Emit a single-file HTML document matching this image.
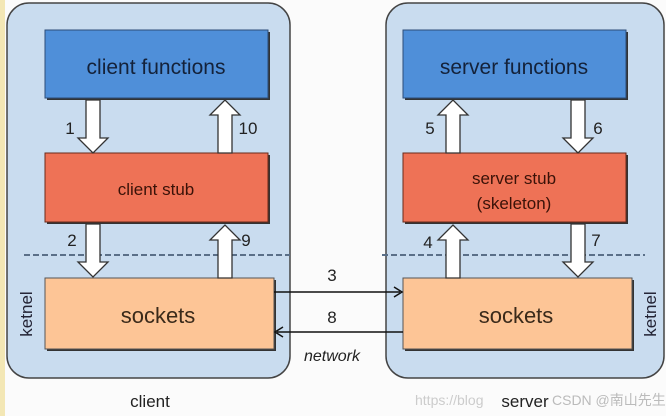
<!DOCTYPE html>
<html><head><meta charset="utf-8"><style>
html,body{margin:0;padding:0;background:#fff}
svg{display:block}
text{font-family:"Liberation Sans",sans-serif}
</style></head><body>
<svg width="666" height="416" viewBox="0 0 666 416" xmlns="http://www.w3.org/2000/svg">
<rect width="666" height="416" fill="#fbfbfb"/>
<rect x="0" y="0" width="5" height="416" fill="#f3e7b5"/>
<rect x="7" y="3" width="283" height="375" rx="22" fill="#c9dcef" stroke="#444" stroke-width="1.5"/>
<rect x="386" y="3" width="278" height="375" rx="22" fill="#c9dcef" stroke="#444" stroke-width="1.5"/>
<line x1="24" y1="255" x2="290" y2="255" stroke="#5a6f88" stroke-width="2" stroke-dasharray="6,3"/>
<line x1="382" y1="255" x2="645" y2="255" stroke="#5a6f88" stroke-width="2" stroke-dasharray="6,3"/>
<rect x="47" y="32" width="223" height="68" fill="#333"/>
<rect x="45" y="30" width="223" height="68" fill="#4f8fd9" stroke="#2d4d78" stroke-width="1"/>
<rect x="47" y="155" width="223" height="69" fill="#333"/>
<rect x="45" y="153" width="223" height="69" fill="#ee7256" stroke="#6a2a1a" stroke-width="1"/>
<rect x="47" y="280" width="229" height="71" fill="#333"/>
<rect x="45" y="278" width="229" height="71" fill="#fdc596" stroke="#555" stroke-width="1"/>
<rect x="405" y="32" width="223" height="68" fill="#333"/>
<rect x="403" y="30" width="223" height="68" fill="#4f8fd9" stroke="#2d4d78" stroke-width="1"/>
<rect x="405" y="155" width="223" height="69" fill="#333"/>
<rect x="403" y="153" width="223" height="69" fill="#ee7256" stroke="#6a2a1a" stroke-width="1"/>
<rect x="405" y="280" width="229" height="71" fill="#333"/>
<rect x="403" y="278" width="229" height="71" fill="#fdc596" stroke="#555" stroke-width="1"/>
<g fill="#fff" stroke="#333" stroke-width="1.3">
<path d="M86,100 L100,100 L100,138 L108,138 L93,153 L78,138 L86,138 Z"/>
<path d="M86,224 L100,224 L100,262 L108,262 L93,277 L78,262 L86,262 Z"/>
<path d="M218,153 L232,153 L232,115 L240,115 L225,100 L210,115 L218,115 Z"/>
<path d="M218,278 L232,278 L232,240 L240,240 L225,225 L210,240 L218,240 Z"/>
<path d="M446,153 L460,153 L460,115 L468,115 L453,100 L438,115 L446,115 Z"/>
<path d="M446,278 L460,278 L460,240 L468,240 L453,225 L438,240 L446,240 Z"/>
<path d="M571,100 L585,100 L585,138 L593,138 L578,153 L563,138 L571,138 Z"/>
<path d="M571,224 L585,224 L585,262 L593,262 L578,277 L563,262 L571,262 Z"/>
</g>
<line x1="274" y1="292" x2="400" y2="292" stroke="#111" stroke-width="1.5"/>
<path d="M394,287 L402,292 L394,297" fill="none" stroke="#111" stroke-width="1.5"/>
<line x1="277" y1="332" x2="403" y2="332" stroke="#111" stroke-width="1.5"/>
<path d="M283,327 L275,332 L283,337" fill="none" stroke="#111" stroke-width="1.5"/>
<g font-size="17" fill="#222" text-anchor="middle">
<text x="332" y="281">3</text>
<text x="332" y="323">8</text>
<text x="70" y="134">1</text>
<text x="248" y="134">10</text>
<text x="72" y="246">2</text>
<text x="246" y="246">9</text>
<text x="430" y="134">5</text>
<text x="598" y="134">6</text>
<text x="428" y="248">4</text>
<text x="596" y="246">7</text>
</g>
<text x="332" y="361" font-size="16" font-style="italic" fill="#222" text-anchor="middle">network</text>
<g text-anchor="middle">
<text x="156" y="74" font-size="21" fill="#14223a">client functions</text>
<text x="514" y="74" font-size="21" fill="#14223a">server functions</text>
<text x="156" y="195" font-size="17" fill="#3a1208">client stub</text>
<text x="514" y="184" font-size="17" fill="#3a1208">server stub</text>
<text x="514" y="209" font-size="17" fill="#3a1208">(skeleton)</text>
<text x="158" y="323" font-size="22" fill="#3a2a1a">sockets</text>
<text x="516" y="323" font-size="22" fill="#3a2a1a">sockets</text>
<text x="150" y="407" font-size="17" fill="#222">client</text>
<text x="525" y="407" font-size="17" fill="#222">server</text>
</g>
<text transform="translate(32,314) rotate(-90)" font-size="17" fill="#223" text-anchor="middle">ketnel</text>
<text transform="translate(656,314) rotate(-90)" font-size="17" fill="#223" text-anchor="middle">ketnel</text>
<text x="415" y="405" font-size="14" fill="#ccc">https://blog</text>
<text x="552" y="405" font-size="14" fill="#bbb">CSDN @南山先生</text>
</svg>
</body></html>
